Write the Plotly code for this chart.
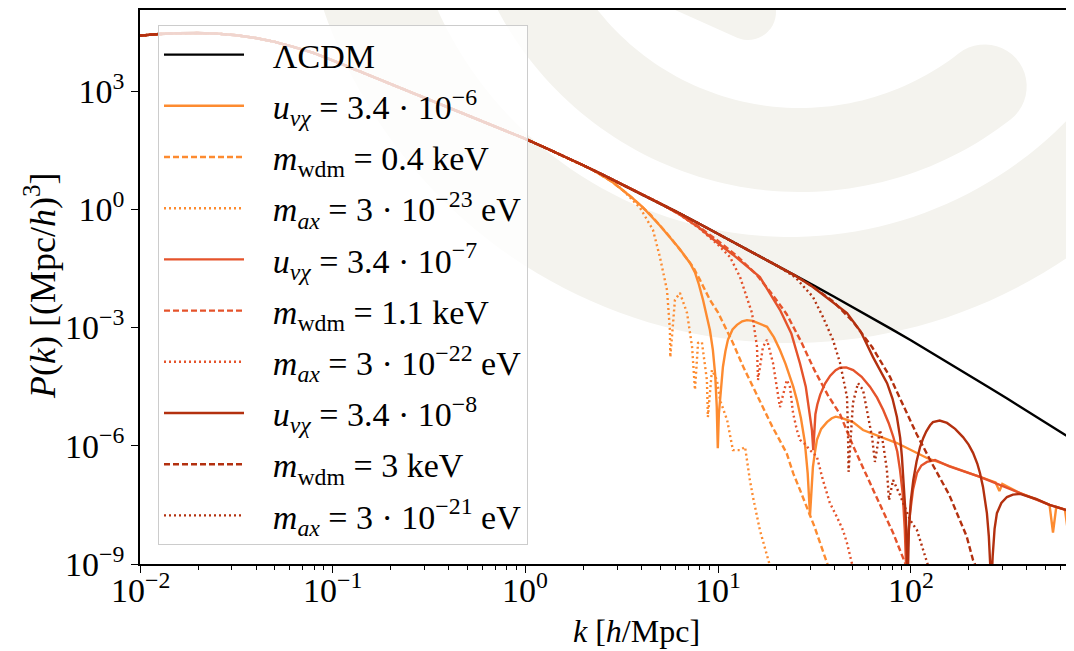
import numpy as np
import plotly.graph_objects as go

# ---------------- data (log10 values) ----------------
lcdm_logk = [-2.0, -1.9, -1.8, -1.7, -1.6, -1.5, -1.4, -1.3, -1.2, -1.1, -1.0, -0.9, -0.8, -0.7,
             -0.6, -0.5, -0.4, -0.3, -0.2, -0.1, 0.0, 0.1, 0.2, 0.3, 0.4, 0.5, 0.6, 0.7, 0.8, 0.9,
             1.0, 1.1, 1.2, 1.3, 1.4, 1.5, 1.6, 1.7, 1.8, 1.9, 2.0, 2.1, 2.2, 2.3, 2.4, 2.5, 2.6,
             2.7, 2.8, 2.9]
lcdm_logp = [4.41, 4.45, 4.47, 4.475, 4.46, 4.42, 4.35, 4.25, 4.12, 3.97, 3.78, 3.58, 3.38, 3.18,
             2.99, 2.80, 2.60, 2.40, 2.20, 2.00, 1.79, 1.57, 1.35, 1.12, 0.88, 0.64, 0.40, 0.15,
             -0.10, -0.36, -0.62, -0.88, -1.14, -1.40, -1.67, -1.94, -2.21, -2.48, -2.76, -3.04,
             -3.32, -3.61, -3.90, -4.20, -4.50, -4.80, -5.10, -5.41, -5.72, -6.03]

# u = 3.4e-6
u6_logk = [0.35, 0.45, 0.55, 0.61, 0.7, 0.8, 0.854, 0.88, 0.90, 0.922, 0.9575, 0.973, 0.985, 0.993,
           0.9985, 1.004, 1.010, 1.018, 1.025, 1.038, 1.051, 1.075, 1.098, 1.125, 1.150, 1.18, 1.21,
           1.254, 1.29, 1.321, 1.35, 1.373, 1.39, 1.409, 1.43, 1.45, 1.465, 1.477, 1.485, 1.492,
           1.503, 1.513, 1.535, 1.565, 1.59, 1.61, 1.64, 1.70, 1.752, 1.928, 2.084, 2.20, 2.359,
           2.44, 2.46, 2.475, 2.567, 2.65, 2.72, 2.738, 2.755, 2.80, 2.816, 2.832, 2.85]
u6_logp = [1.00, 0.70, 0.31, 0.05, -0.42, -1.00, -1.36, -1.60, -1.90, -2.30, -3.06, -3.57, -4.2, -5.0,
           -6.06, -5.2, -4.84, -4.3, -4.0, -3.6, -3.31, -3.05, -2.93, -2.84, -2.81, -2.83, -2.89,
           -2.98, -3.25, -3.57, -3.92, -4.25, -4.5, -4.84, -5.3, -5.9, -6.7, -7.76, -6.9, -6.54,
           -6.15, -5.85, -5.57, -5.40, -5.30, -5.26, -5.29, -5.40, -5.60, -5.93, -6.31, -6.52, -6.79,
           -6.93, -7.15, -6.97, -7.20, -7.35, -7.50, -8.2, -7.55, -7.62, -8.19, -7.68, -7.72]

# m_wdm = 0.4 keV
w04_logk = [0.35, 0.45, 0.55, 0.65, 0.75, 0.83, 0.870, 0.906, 0.958, 1.0, 1.077, 1.13, 1.2, 1.28,
            1.356, 1.39, 1.425, 1.50, 1.565, 1.62]
w04_logp = [1.00, 0.70, 0.31, -0.14, -0.70, -1.20, -1.46, -1.79, -2.30, -2.62, -3.39, -3.99, -4.70,
            -5.50, -6.19, -6.70, -7.12, -8.05, -8.97, -9.7]

# m_ax = 3e-23 eV
a23_logk = [0.35, 0.45, 0.5, 0.595, 0.662, 0.698, 0.735, 0.750, 0.752, 0.776, 0.802, 0.839, 0.865,
            0.880, 0.896, 0.916, 0.942, 0.947, 0.968, 0.994, 1.010, 1.047, 1.077, 1.114, 1.140, 1.165,
            1.181, 1.217, 1.243, 1.259, 1.275, 1.29]
a23_logp = [1.00, 0.71, 0.52, 0.04, -0.52, -1.21, -2.05, -3.06, -3.75, -2.30, -2.12, -2.63, -3.49,
            -4.58, -3.39, -3.37, -4.33, -5.27, -4.08, -4.33, -4.84, -5.35, -6.11, -6.11, -6.03, -6.87,
            -7.30, -8.14, -8.57, -8.82, -9.15, -9.5]

# u = 3.4e-7
u7_logk = [0.7, 0.8, 0.9, 1.0, 1.077, 1.217, 1.321, 1.38, 1.425, 1.455, 1.477, 1.487, 1.494, 1.505,
           1.515, 1.530, 1.555, 1.582, 1.61, 1.633, 1.665, 1.701, 1.745, 1.788, 1.825, 1.857, 1.885,
           1.909, 1.93, 1.944, 1.958, 1.969, 1.978, 1.987, 1.996, 2.012, 2.032, 2.055, 2.084, 2.126,
           2.20, 2.359, 2.567, 2.72, 2.80, 2.85]
u7_logp = [0.15, -0.13, -0.46, -0.86, -1.15, -1.72, -2.55, -3.15, -3.91, -4.5, -5.18, -5.6, -6.11,
           -5.2, -4.95, -4.70, -4.42, -4.22, -4.08, -4.02, -4.01, -4.08, -4.25, -4.50, -4.78, -5.09,
           -5.42, -5.77, -6.15, -6.61, -7.2, -8.14, -9.4, -8.3, -7.71, -7.1, -6.69, -6.5, -6.41,
           -6.36, -6.52, -6.79, -7.20, -7.50, -7.62, -7.72]

# m_wdm = 1.1 keV
w11_logk = [0.7, 0.8, 0.9, 1.0, 1.1, 1.2, 1.28, 1.356, 1.43, 1.50, 1.57, 1.633, 1.702, 1.805, 1.909,
            1.97, 2.03]
w11_logp = [0.15, -0.12, -0.44, -0.80, -1.19, -1.66, -2.15, -2.66, -3.35, -4.08, -4.72, -5.2, -6.02,
            -7.12, -8.22, -8.97, -9.6]

# m_ax = 3e-22 eV
a22_logk = [0.7, 0.8, 0.9, 1.0, 1.062, 1.114, 1.150, 1.176, 1.202, 1.207, 1.233, 1.254, 1.285, 1.306,
            1.321, 1.357, 1.373, 1.389, 1.409, 1.425, 1.45, 1.477, 1.513, 1.544, 1.580, 1.617, 1.648,
            1.669, 1.685, 1.70, 1.72]
a22_logp = [0.15, -0.13, -0.47, -0.90, -1.21, -1.72, -2.22, -2.63, -3.49, -4.33, -3.49, -3.31, -3.90,
            -4.58, -5.02, -4.33, -4.51, -5.17, -5.60, -5.85, -5.95, -6.11, -6.28, -6.87, -7.45, -7.81,
            -8.14, -8.47, -8.82, -9.15, -9.5]

# u = 3.4e-8
u8_logk = [1.2, 1.3, 1.4, 1.492, 1.58, 1.669, 1.74, 1.804, 1.877, 1.905, 1.928, 1.945, 1.954, 1.965,
           1.975, 1.984, 1.990, 2.000, 2.013, 2.03, 2.048, 2.065, 2.08, 2.10, 2.115, 2.15, 2.188,
           2.23, 2.271, 2.30, 2.323, 2.345, 2.359, 2.375, 2.395, 2.405, 2.411, 2.418, 2.425, 2.435,
           2.447, 2.47, 2.499, 2.53, 2.567, 2.65, 2.72, 2.80, 2.85]
u8_logp = [-1.14, -1.40, -1.68, -1.97, -2.30, -2.63, -3.10, -3.75, -4.41, -4.8, -5.27, -5.8, -6.28,
           -7.0, -7.9, -9.5, -8.14, -7.4, -6.87, -6.4, -6.03, -5.8, -5.64, -5.48, -5.40, -5.36, -5.42,
           -5.57, -5.78, -5.97, -6.18, -6.45, -6.69, -7.05, -7.71, -8.3, -8.97, -9.6, -8.8, -8.1,
           -7.71, -7.45, -7.30, -7.24, -7.22, -7.35, -7.50, -7.62, -7.72]

# m_wdm = 3 keV
w3_logk = [1.2, 1.3, 1.4, 1.5, 1.6, 1.7, 1.8, 1.892, 1.96, 2.03, 2.11, 2.20, 2.29, 2.323, 2.37]
w3_logp = [-1.14, -1.40, -1.68, -1.99, -2.35, -2.85, -3.50, -4.25, -4.98, -5.70, -6.45, -7.25, -8.30,
           -8.9, -9.4]

# m_ax = 3e-21 eV
a21_logk = [1.2, 1.3, 1.4, 1.492, 1.544, 1.596, 1.633, 1.669, 1.674, 1.677, 1.700, 1.726, 1.752,
            1.778, 1.799, 1.814, 1.840, 1.856, 1.876, 1.887, 1.908, 1.944, 1.996, 2.032, 2.063, 2.089,
            2.11]
a21_logp = [-1.14, -1.41, -1.72, -2.22, -2.73, -3.31, -3.90, -4.76, -5.60, -6.66, -4.91, -4.41, -4.58,
            -5.27, -5.78, -6.41, -5.60, -5.93, -6.61, -7.38, -6.87, -7.25, -7.88, -8.14, -8.64, -9.03,
            -9.5]

labels = [
    "ΛCDM",
    "<i>u</i><sub><i>νχ</i></sub> = 3.4 · 10<sup>−6</sup>",
    "<i>m</i><sub>wdm</sub> = 0.4 keV",
    "<i>m</i><sub><i>ax</i></sub> = 3 · 10<sup>−23</sup> eV",
    "<i>u</i><sub><i>νχ</i></sub> = 3.4 · 10<sup>−7</sup>",
    "<i>m</i><sub>wdm</sub> = 1.1 keV",
    "<i>m</i><sub><i>ax</i></sub> = 3 · 10<sup>−22</sup> eV",
    "<i>u</i><sub><i>νχ</i></sub> = 3.4 · 10<sup>−8</sup>",
    "<i>m</i><sub>wdm</sub> = 3 keV",
    "<i>m</i><sub><i>ax</i></sub> = 3 · 10<sup>−21</sup> eV",
]
series = [(u6_logk, u6_logp), (w04_logk, w04_logp), (a23_logk, a23_logp),
          (u7_logk, u7_logp), (w11_logk, w11_logp), (a22_logk, a22_logp),
          (u8_logk, u8_logp), (w3_logk, w3_logp), (a21_logk, a21_logp)]
colors = ["#fd8b30", "#fd8b30", "#fd8b30",
          "#e5532b", "#e5532b", "#e5532b",
          "#b3300f", "#b3300f", "#b3300f"]
dashes = ["solid", "6px,3px", "2px,3px"] * 3

ytick_vals = [1e3, 1e0, 1e-3, 1e-6, 1e-9]
ytick_text = ["10<sup>3</sup>", "10<sup>0</sup>", "10<sup>−3</sup>", "10<sup>−6</sup>", "10<sup>−9</sup>"]
xtick_vals = [1e-2, 1e-1, 1e0, 1e1, 1e2]
xtick_text = ["10<sup>−2</sup>", "10<sup>−1</sup>", "10<sup>0</sup>", "10<sup>1</sup>", "10<sup>2</sup>"]

# ---------------- figure ----------------
OFF = 8                      # page body margin
W, H = 1074 - OFF, 651 - OFF
PX0, PY0, PY1, PX1 = 140, 10, 564, 1074   # plot box in page pixels
L, T = PX0 - OFF, PY0 - OFF
B = H - (PY1 - OFF)
PW, PH = PX1 - PX0, PY1 - PY0
XR = [-2, 2.847]
FONT = "Liberation Serif"
PAD = "\u2002\u2009"
LW = 2.4

fig = go.Figure()
fig.add_trace(go.Scatter(x=10 ** np.array(lcdm_logk), y=10 ** np.array(lcdm_logp), mode="lines",
                         line=dict(color="black", width=LW), name=PAD + labels[0],
                         legendgroup="g0"))
lk = np.array(lcdm_logk)
lp = np.array(lcdm_logp)
for i, ((sk, sp), c, d, name) in enumerate(zip(series, colors, dashes, labels[1:])):
    mask = lk < sk[0]
    xk = np.concatenate([lk[mask], np.array(sk)])
    yp = np.concatenate([lp[mask], np.array(sp)])
    fig.add_trace(go.Scatter(x=10 ** xk, y=10 ** yp, mode="lines",
                             line=dict(color=c, width=LW, dash=d), name=PAD + name,
                             legendgroup=f"g{i + 1}"))


# watermark (decoration), page-pixel geometry -> paper
def to_paper(X, Y):
    return (X - PX0) / PW, (PY1 - Y) / PH


def poly_path(pts):
    pp = [to_paper(X, Y) for X, Y in pts]
    return "M " + " L ".join(f"{a:.5f},{b:.5f}" for a, b in pp) + " Z"


def band_pts(cx, cy, r, hw, a0, a1, n=90):
    t = np.radians(np.linspace(a0, a1, n))
    pts = [(cx + (r + hw) * np.cos(a), cy + (r + hw) * np.sin(a)) for a in t]
    sgn = np.sign(a1 - a0)
    e = np.radians(a1)
    ccx, ccy = cx + r * np.cos(e), cy + r * np.sin(e)
    pts += [(ccx + hw * np.cos(e + sgn * p), ccy + hw * np.sin(e + sgn * p)) for p in np.linspace(0, np.pi, 24)]
    pts += [(cx + (r - hw) * np.cos(a), cy + (r - hw) * np.sin(a)) for a in t[::-1]]
    return pts


def capsule_pts(x0, y0, x1, y1, hw):
    ang = np.arctan2(y1 - y0, x1 - x0)
    pts = [(x1 + hw * np.cos(ang - np.pi / 2 + p), y1 + hw * np.sin(ang - np.pi / 2 + p)) for p in np.linspace(0, np.pi, 24)]
    pts += [(x0 + hw * np.cos(ang + np.pi / 2 + p), y0 + hw * np.sin(ang + np.pi / 2 + p)) for p in np.linspace(0, np.pi, 24)]
    return pts


WM = "#f4f3ee"
for (cx, r, hw, a0, a1) in [(790, 440, 53, 172, 15), (800, 300, 42, 178, 52)]:
    fig.add_shape(type="path", xref="paper", yref="paper", path=poly_path(band_pts(cx, -150, r, hw, a0, a1)),
                  fillcolor=WM, line=dict(width=0), layer="below")
fig.add_shape(type="path", xref="paper", yref="paper", path=poly_path(capsule_pts(610, -50, 748, 12, 28)),
              fillcolor=WM, line=dict(width=0), layer="below")

minor_vals = [m * 10.0 ** e for e in range(-2, 3) for m in range(2, 10)]

annotations = [
    dict(text="<i>k</i> [<i>h</i>/Mpc]", xref="paper", yref="paper",
         x=(636 - PX0) / PW, y=(PY1 - 631) / PH, showarrow=False,
         font=dict(family=FONT, size=32), xanchor="center", yanchor="middle"),
    dict(text="<i>P</i>(<i>k</i>) [(Mpc/<i>h</i>)<sup>3</sup>]", xref="paper", yref="paper",
         x=(40 - PX0) / PW, y=(PY1 - 286) / PH, showarrow=False, textangle=-90,
         font=dict(family=FONT, size=36), xanchor="center", yanchor="middle"),
]
# x tick labels as text placed at the tick values
for v, t in zip(xtick_vals, xtick_text):
    annotations.append(dict(text=t, xref="paper", yref="paper",
                            x=(np.log10(v) - XR[0]) / (XR[1] - XR[0]), y=(PY1 - 565) / PH,
                            showarrow=False, font=dict(family=FONT, size=34),
                            xanchor="center", yanchor="top"))

fig.update_layout(
    width=W, height=H,
    margin=dict(l=L, r=0, t=T, b=B),
    plot_bgcolor="rgba(0,0,0,0)", paper_bgcolor="white",
    font=dict(family=FONT, color="black"),
    showlegend=True,
    legend=dict(x=(158 - PX0) / PW, y=(PY1 - 25) / PH, xanchor="left", yanchor="top",
                bgcolor="rgba(255,255,255,0.8)", bordercolor="#cccccc", borderwidth=1,
                font=dict(family=FONT, size=34, color="black"), itemwidth=80,
                tracegroupgap=4),
    xaxis=dict(type="log", range=XR, showgrid=False, zeroline=False,
               showline=True, linecolor="black", linewidth=1.5, mirror=True,
               ticks="outside", ticklen=7, tickwidth=1.2, tickcolor="black",
               tickvals=xtick_vals, showticklabels=False,
               minor=dict(ticks="outside", ticklen=4, tickwidth=1, tickcolor="black",
                          tickvals=minor_vals, showgrid=False)),
    yaxis=dict(type="log", range=[-9, 5.06], showgrid=False, zeroline=False,
               showline=True, linecolor="black", linewidth=1.5, mirror=False,
               ticks="outside", ticklen=7, tickwidth=1.2, tickcolor="black",
               tickvals=ytick_vals, ticktext=ytick_text,
               tickfont=dict(family=FONT, size=34)),
    annotations=annotations,
)

fig.write_html("out.html")
